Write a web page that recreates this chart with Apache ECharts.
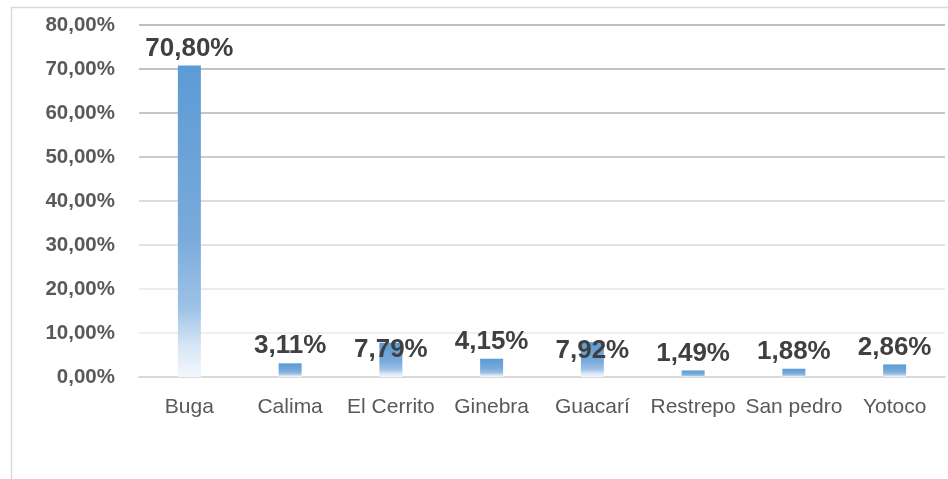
<!DOCTYPE html>
<html>
<head>
<meta charset="utf-8">
<script src="https://cdn.jsdelivr.net/npm/echarts@6/dist/echarts.min.js"></script>
<style>html,body{margin:0;padding:0;background:#fff;}#c{width:948px;height:479px;}</style>
</head>
<body>
<div id="c"></div>
<script>
const categories = ['Buga', 'Calima', 'El Cerrito', 'Ginebra', 'Guacarí', 'Restrepo', 'San pedro', 'Yotoco'];
const values = [70.80, 3.11, 7.79, 4.15, 7.92, 1.49, 1.88, 2.86];
const yTicks = [0, 10, 20, 30, 40, 50, 60, 70, 80];

const labelShift = { 'El Cerrito': 24, 'Guacarí': 26 };

const fmt = v => v.toFixed(2).replace('.', ',') + '%';
const chart = echarts.init(document.getElementById('c'));
const grad = new echarts.graphic.LinearGradient(0, 0, 0, 1, [
  { offset: 0, color: '#5B9BD5' },
  { offset: 0.55, color: '#7aaadb' },
  { offset: 0.78, color: '#9ec2e6' },
  { offset: 0.9, color: '#d6e6f5' },
  { offset: 1, color: '#f4f8fd' }
]);
chart.setOption({
  animation: false,
  graphic: [{
    type: 'rect', shape: { x: 11.5, y: 7.5, width: 1200, height: 1200 },
    style: { fill: 'none', stroke: '#d9d9d9', lineWidth: 1.5 }, silent: true
  }],
  grid: { left: 139, right: 3, top: 25, bottom: 102 },
  xAxis: {
    type: 'category', data: categories,
    axisLine: { show: true, lineStyle: { color: '#d9d9d9', width: 2 } },
    axisTick: { show: false },
    axisLabel: { color: '#595959', fontSize: 21, fontFamily: 'Liberation Sans', margin: 20, interval: 0 }
  },
  yAxis: {
    type: 'value', min: yTicks[0], max: yTicks[yTicks.length - 1], interval: 10,
    axisLine: { show: false }, axisTick: { show: false },
    axisLabel: { color: '#595959', fontSize: 20.5, fontWeight: 'bold', fontFamily: 'Liberation Sans', margin: 24,
      formatter: v => fmt(v) },
    splitLine: { lineStyle: { width: 2, color: ['#d9d9d9', '#efefef', '#ececec', '#e2e2e2', '#dcdcdc', '#cccccc', '#c6c6c6', '#c2c2c2', '#c0c0c0'] } }
  },
  series: [{
    type: 'bar', barWidth: 23,
    data: categories.map((c, i) => ({
      value: values[i],
      label: labelShift[c] ? { offset: [0, labelShift[c]] } : undefined
    })),
    itemStyle: { color: grad },
    label: { show: true, position: 'top', distance: 4, color: '#404040', fontSize: 26, fontWeight: 'bold',
      fontFamily: 'Liberation Sans', formatter: p => fmt(p.value) }
  }]
});
</script>
</body>
</html>
